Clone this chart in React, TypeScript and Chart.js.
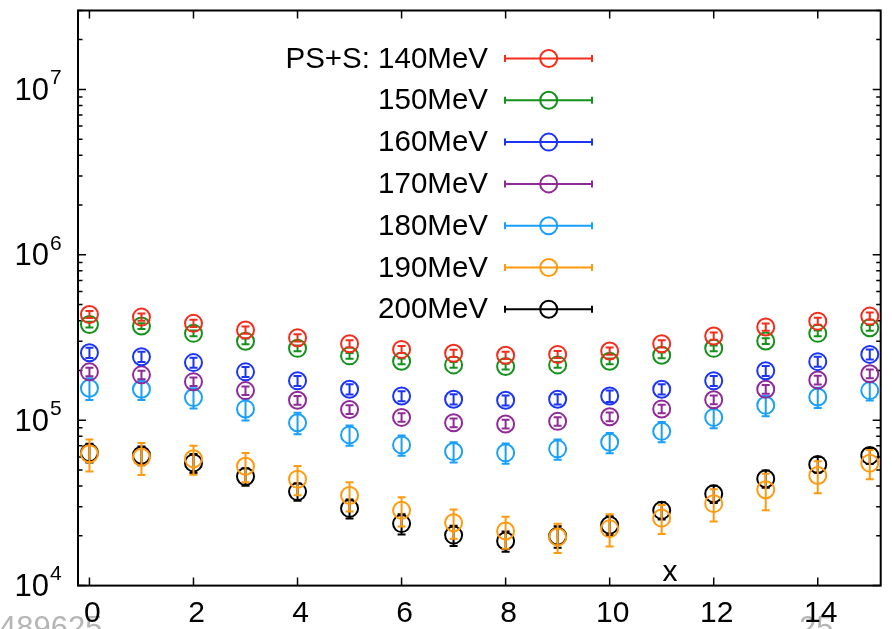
import React, { useEffect, useRef } from "react";
import { Chart, registerables } from "chart.js";
Chart.register(...registerables);

const xs = [0, 1, 2, 3, 4, 5, 6, 7, 8, 9, 10, 11, 12, 13, 14, 15];
const xTicks = [0, 2, 4, 6, 8, 10, 12, 14];
const yDecades = [4, 5, 6, 7];

const v140 = [4.36e5, 4.2e5, 3.85e5, 3.51e5, 3.15e5, 2.9e5, 2.68e5, 2.54e5, 2.47e5, 2.5e5, 2.62e5, 2.9e5, 3.23e5, 3.66e5, 3.97e5, 4.26e5];
const v150 = [3.79e5, 3.71e5, 3.35e5, 3.0e5, 2.72e5, 2.45e5, 2.27e5, 2.16e5, 2.11e5, 2.16e5, 2.27e5, 2.47e5, 2.72e5, 3.01e5, 3.35e5, 3.62e5];
const v160 = [2.56e5, 2.42e5, 2.23e5, 1.96e5, 1.73e5, 1.54e5, 1.4e5, 1.34e5, 1.32e5, 1.34e5, 1.4e5, 1.54e5, 1.73e5, 1.99e5, 2.26e5, 2.5e5];
const v170 = [1.96e5, 1.88e5, 1.71e5, 1.51e5, 1.32e5, 1.16e5, 1.04e5, 9.66e4, 9.48e4, 9.84e4, 1.05e5, 1.17e5, 1.33e5, 1.54e5, 1.75e5, 1.91e5];
const v180 = [1.56e5, 1.54e5, 1.37e5, 1.17e5, 9.66e4, 8.15e4, 7.09e4, 6.46e4, 6.35e4, 6.71e4, 7.35e4, 8.56e4, 1.04e5, 1.23e5, 1.38e5, 1.51e5];
const v190 = [6.27e4, 5.97e4, 5.84e4, 5.27e4, 4.4e4, 3.51e4, 2.85e4, 2.4e4, 2.14e4, 1.97e4, 2.21e4, 2.56e4, 3.13e4, 3.8e4, 4.63e4, 5.5e4];
const v200 = [6.37e4, 6.14e4, 5.52e4, 4.57e4, 3.7e4, 2.93e4, 2.37e4, 2.02e4, 1.86e4, 1.99e4, 2.32e4, 2.85e4, 3.59e4, 4.43e4, 5.4e4, 6.11e4];

// relative errors
const e140 = [0.05, 0.05, 0.05, 0.05, 0.05, 0.05, 0.05, 0.05, 0.05, 0.05, 0.05, 0.05, 0.05, 0.05, 0.05, 0.05];
const e150 = [0.04, 0.04, 0.04, 0.04, 0.04, 0.04, 0.04, 0.04, 0.04, 0.04, 0.04, 0.04, 0.04, 0.04, 0.04, 0.04];
const e160 = [0.07, 0.07, 0.07, 0.07, 0.07, 0.07, 0.07, 0.07, 0.07, 0.07, 0.08, 0.07, 0.07, 0.07, 0.07, 0.07];
const e170 = [0.06, 0.06, 0.06, 0.06, 0.06, 0.06, 0.06, 0.06, 0.06, 0.06, 0.06, 0.06, 0.06, 0.06, 0.06, 0.06];
const e180 = [0.15, 0.14, 0.14, 0.15, 0.15, 0.14, 0.14, 0.14, 0.14, 0.14, 0.14, 0.14, 0.14, 0.14, 0.14, 0.13];
const e190 = [0.22, 0.22, 0.2, 0.2, 0.2, 0.2, 0.2, 0.2, 0.22, 0.2, 0.22, 0.2, 0.22, 0.25, 0.22, 0.2];
const e200 = [0.13, 0.13, 0.13, 0.12, 0.12, 0.13, 0.14, 0.14, 0.14, 0.15, 0.13, 0.12, 0.12, 0.12, 0.11, 0.11];

const labels = ["PS+S: 140MeV", "150MeV", "160MeV", "170MeV", "180MeV", "190MeV", "200MeV"];
const values = [v140, v150, v160, v170, v180, v190, v200];
const errors = [e140, e150, e160, e170, e180, e190, e200];
const colors = ["#f42c1c", "#13911a", "#1c34f5", "#8f2a98", "#199ffc", "#ff9a0e", "#000000"];

const FONT = '"Liberation Sans", Arial, Helvetica, sans-serif';

export default function App() {
  const ref = useRef<HTMLCanvasElement>(null);
  useEffect(() => {
    document.body.style.margin = "0";
    const canvas = ref.current!;

    const errPlugin = {
      id: "errbars",
      beforeDatasetDraw(chart: any, args: any) {
        const ds = chart.data.datasets[args.index];
        const meta = args.meta;
        const y = chart.scales.y;
        const c = chart.ctx;
        c.save();
        c.strokeStyle = ds.borderColor;
        c.lineWidth = 2;
        meta.data.forEach((pt: any, i: number) => {
          const d = ds.data[i];
          const yt = y.getPixelForValue(d.y + d.e);
          const yb = y.getPixelForValue(d.y - d.e);
          c.beginPath();
          c.moveTo(pt.x, yt);
          c.lineTo(pt.x, yb);
          c.moveTo(pt.x - 4, yt);
          c.lineTo(pt.x + 4, yt);
          c.moveTo(pt.x - 4, yb);
          c.lineTo(pt.x + 4, yb);
          c.stroke();
        });
        c.restore();
      },
    };

    const axesPlugin = {
      id: "gnuaxes",
      beforeDatasetsDraw(chart: any) {
        const c = chart.ctx;
        const a = chart.chartArea;
        const xs_ = chart.scales.x;
        const ys_ = chart.scales.y;
        c.save();
        // watermark text
        c.fillStyle = "#b5b5b5";
        c.font = `31px ${FONT}`;
        c.textBaseline = "top";
        c.textAlign = "left";
        c.fillText("489625", -1, 614);
        c.fillText("25", 799, 614);

        c.strokeStyle = "#000";
        c.lineWidth = 1.5;
        // y ticks
        for (let k = 4; k <= 7; k++) {
          for (let m = 1; m <= 9; m++) {
            const v = m * Math.pow(10, k);
            if (v < ys_.min * 0.999 || v > ys_.max * 1.001) continue;
            const py = ys_.getPixelForValue(v);
            const len = m === 1 ? 8 : 4.5;
            c.beginPath();
            c.moveTo(a.left, py);
            c.lineTo(a.left + len, py);
            c.moveTo(a.right, py);
            c.lineTo(a.right - len, py);
            c.stroke();
          }
        }
        // x ticks
        xTicks.forEach((t) => {
          const px = xs_.getPixelForValue(t);
          c.beginPath();
          c.moveTo(px, a.bottom);
          c.lineTo(px, a.bottom - 8);
          c.moveTo(px, a.top);
          c.lineTo(px, a.top + 8);
          c.stroke();
        });
        // frame
        c.lineWidth = 2;
        c.strokeRect(a.left, a.top, a.right - a.left, a.bottom - a.top);

        // y labels
        c.fillStyle = "#000";
        yDecades.forEach((k) => {
          const py = ys_.getPixelForValue(Math.pow(10, k));
          c.font = `31px ${FONT}`;
          c.textAlign = "right";
          c.textBaseline = "middle";
          c.fillText("10", 49, py + 2);
          c.font = `21px ${FONT}`;
          c.textAlign = "left";
          c.fillText(String(k), 50, py - 11);
        });
        // x labels
        c.font = `30px ${FONT}`;
        c.textAlign = "center";
        c.textBaseline = "middle";
        xTicks.forEach((t) => {
          const px = xs_.getPixelForValue(t);
          c.fillText(String(t), px + 3, 614);
        });
        // x axis title
        c.font = `30px ${FONT}`;
        c.fillText("x", 670, 573);
        c.restore();
      },
    };

    const legendPlugin = {
      id: "gnulegend",
      afterDraw(chart: any) {
        const c = chart.ctx;
        c.save();
        const rowY0 = 58.5;
        const rowStep = 41.8;
        labels.forEach((lab, i) => {
          const y = rowY0 + i * rowStep;
          c.fillStyle = "#000";
          c.font = `29.5px ${FONT}`;
          c.textAlign = "right";
          c.textBaseline = "middle";
          c.fillText(lab, 488, y + 1);
          c.strokeStyle = colors[i];
          c.lineWidth = 2;
          c.beginPath();
          c.moveTo(505, y);
          c.lineTo(592, y);
          c.moveTo(505, y - 3.5);
          c.lineTo(505, y + 3.5);
          c.moveTo(592, y - 3.5);
          c.lineTo(592, y + 3.5);
          c.stroke();
          c.beginPath();
          c.arc(548.7, y, 8.5, 0, Math.PI * 2);
          c.stroke();
        });
        c.restore();
      },
    };

    const datasets = values.map((vals, i) => ({
      label: labels[i],
      data: xs.map((x, j) => ({ x, y: vals[j], e: vals[j] * errors[i][j] })),
      borderColor: colors[i],
      backgroundColor: "rgba(0,0,0,0)",
      pointRadius: 8.5,
      pointHoverRadius: 8.5,
      pointBorderWidth: 2,
      pointStyle: "circle",
      showLine: false,
    }));

    const chart = new Chart(canvas, {
      type: "scatter",
      data: { datasets },
      options: {
        animation: false,
        responsive: false,
        events: [],
        layout: { padding: { left: 78, top: 7.3, right: 11.3, bottom: 43.4 } },
        plugins: { legend: { display: false }, tooltip: { enabled: false } },
        scales: {
          x: { type: "linear", min: -0.22, max: 15.21, display: false },
          y: { type: "logarithmic", min: 1e4, max: 3e7, display: false },
        },
      },
      plugins: [axesPlugin, errPlugin, legendPlugin],
    } as any);
    return () => chart.destroy();
  }, []);
  return <canvas ref={ref} width={892} height={629} style={{ display: "block" }} />;
}
